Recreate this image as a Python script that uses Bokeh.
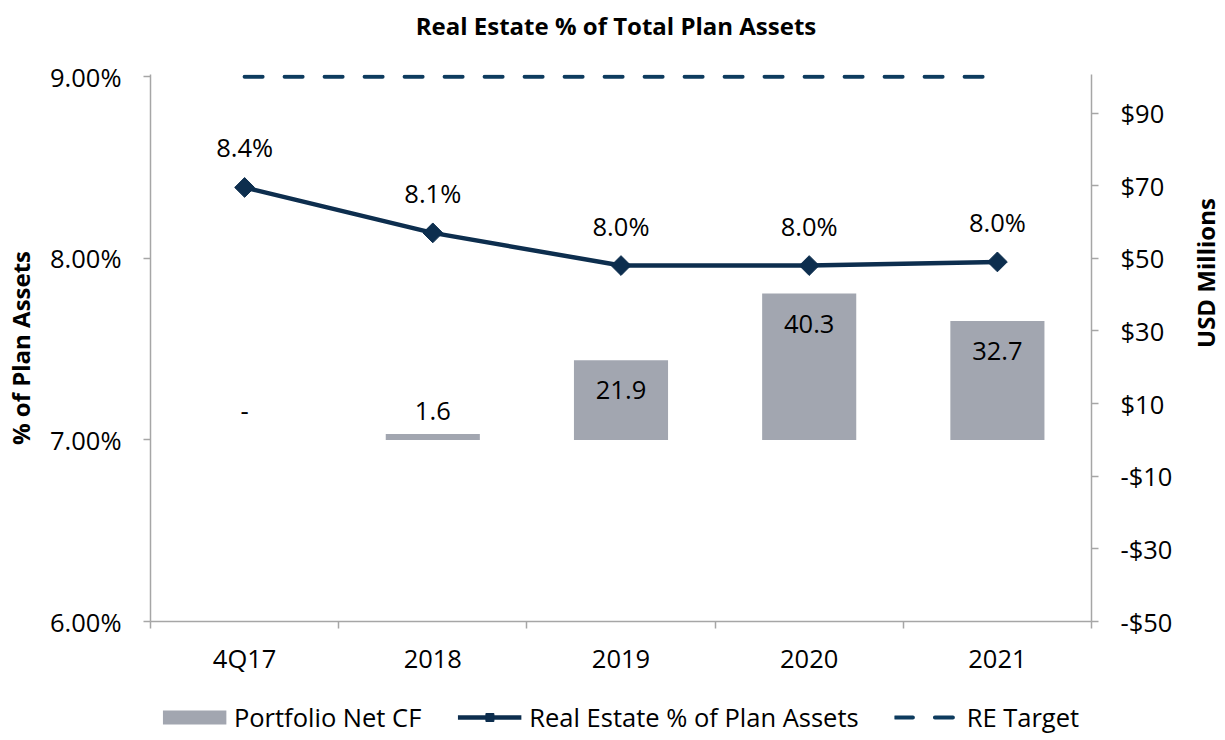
import math
import numpy as np
from bokeh.plotting import figure
from bokeh.layouts import column
from bokeh.models import (Range1d, LinearAxis, FixedTicker, PrintfTickFormatter,
                          Legend, LegendItem, ColumnDataSource)
from bokeh.core.properties import value
from bokeh.embed import file_html
from bokeh.resources import INLINE

# ---------------- data ----------------
categories = ["4Q17", "2018", "2019", "2020", "2021"]
net_cf = [0.0, 1.6, 21.9, 40.3, 32.7]            # USD millions (right axis)
re_pct = [8.39, 8.14, 7.96, 7.96, 7.98]          # % of plan assets (left axis)
re_target = [9.0, 9.0, 9.0, 9.0, 9.0]            # RE target %
left_ticks = [6.0, 7.0, 8.0, 9.0]
right_ticks = [-50, -30, -10, 10, 30, 50, 70, 90]
title_text = "Real Estate % of Total Plan Assets"
legend_labels = ["Portfolio Net CF", "Real Estate % of Plan Assets", "RE Target"]

FONT = "Open Sans"
BAR_C = "#a2a6b0"
LINE_C = "#0d2e4e"
TARGET_C = "#0d3b5e"
AXIS_C = "#a6a6a6"
FW = 941          # frame width shared by all strips
BL, BR = 139, 129  # left / right borders shared by all strips

xs = [i + 0.5 for i in range(len(categories))]
bounds = list(range(len(categories) + 1))

# tiny headroom so the target line at 9.00% is not clipped by the frame
L0, L1 = 6.0, 9.0
R0, R1 = -50.0, 100.0
pad = 0.012
ymax_l = L1 + pad
ymax_r = R0 + (R1 - R0) * (ymax_l - L0) / (L1 - L0)


def blank_fig(h, xr=(0, 1)):
    f = figure(frame_width=FW, frame_height=h, output_backend="svg", toolbar_location=None,
               x_range=Range1d(*xr), y_range=Range1d(0, 1),
               min_border_left=BL, min_border_right=BR,
               min_border_top=0, min_border_bottom=0)
    f.axis.visible = False
    f.grid.visible = False
    f.outline_line_color = None
    f.background_fill_color = "white"
    f.border_fill_color = "white"
    return f


# ---------------- title strip ----------------
tfig = blank_fig(50)
tfig.text(x=[0.5], y=[0.5], text=[title_text], x_offset=-5, text_font=value(FONT),
          text_font_size="24px", text_font_style="bold", text_color="black",
          text_align="center", text_baseline="middle")

# ---------------- main chart ----------------
fig = figure(frame_width=FW, frame_height=547, output_backend="svg", toolbar_location=None,
             x_range=Range1d(0, len(categories)), y_range=Range1d(L0, ymax_l),
             min_border_left=BL, min_border_right=BR, min_border_top=24,
             min_border_bottom=73)
fig.xaxis.visible = False
fig.yaxis.visible = False
fig.grid.visible = False
fig.outline_line_color = None
fig.background_fill_color = "white"
fig.border_fill_color = "white"
fig.extra_y_ranges = {"usd": Range1d(R0, ymax_r)}


def style_axis(ax):
    ax.axis_line_color = AXIS_C
    ax.axis_line_width = 1.5
    ax.major_tick_line_color = AXIS_C
    ax.major_tick_line_width = 1.5
    ax.minor_tick_line_color = AXIS_C
    ax.minor_tick_line_width = 1.5
    ax.major_label_text_font = FONT
    ax.major_label_text_font_size = "25.5px"
    ax.major_label_text_color = "black"
    ax.axis_label_text_font = FONT
    ax.axis_label_text_font_size = "24px"
    ax.axis_label_text_font_style = "bold"
    ax.axis_label_text_color = "black"


xax = LinearAxis(ticker=FixedTicker(ticks=xs, minor_ticks=bounds))
xax.major_label_overrides = {x: c for x, c in zip(xs, categories)}
style_axis(xax)
xax.major_tick_out = 0
xax.major_tick_in = 0
xax.minor_tick_out = 7
xax.minor_tick_in = 0
xax.major_label_standoff = 12
fig.add_layout(xax, "below")

lax = LinearAxis(ticker=FixedTicker(ticks=left_ticks, minor_ticks=[]),
                 formatter=PrintfTickFormatter(format="%.2f%%"),
                 axis_label="% of Plan Assets")
style_axis(lax)
lax.major_tick_out = 7
lax.major_tick_in = 0
lax.major_label_standoff = 22
lax.axis_label_standoff = 10
fig.add_layout(lax, "left")

rax = LinearAxis(y_range_name="usd", ticker=FixedTicker(ticks=right_ticks, minor_ticks=[]),
                 axis_label="USD Millions")
rax.major_label_overrides = {t: ("-$%d" % abs(t) if t < 0 else "$%d" % t) for t in right_ticks}
style_axis(rax)
rax.major_tick_out = 7
rax.major_tick_in = 0
rax.major_label_standoff = 22
rax.axis_label_standoff = 30
rax.axis_label_orientation = math.pi / 2
rax.axis_label_text_align = "center"
fig.add_layout(rax, "right")

# bars + labels
bar_src = ColumnDataSource(dict(x=xs, top=net_cf,
                                ly=[max(v - 8.26, 7.85) for v in net_cf],
                                lab=[("-" if v == 0 else "%.1f" % v) for v in net_cf]))
fig.vbar(x="x", top="top", bottom=0, width=0.5, source=bar_src, y_range_name="usd",
         fill_color=BAR_C, line_color=None)
fig.text(x="x", y="ly", text="lab", source=bar_src, y_range_name="usd",
         text_font=value(FONT), text_font_size="25.5px", text_color="black",
         text_align="center", text_baseline="middle")

# target line
fig.line(xs, re_target, line_color=TARGET_C, line_width=4, line_dash="18 22", line_cap="round")

# RE % line + labels
line_src = ColumnDataSource(dict(x=xs, y=re_pct, lab=["%.1f%%" % v for v in re_pct]))
fig.line(x="x", y="y", source=line_src, line_color=LINE_C, line_width=4.5)
fig.scatter(x="x", y="y", source=line_src, marker="square", angle=math.pi / 4,
            size=14, fill_color=LINE_C, line_color=LINE_C)
fig.text(x="x", y="y", text="lab", source=line_src, y_offset=-40,
         text_font=value(FONT), text_font_size="25.5px", text_color="black",
         text_align="center", text_baseline="middle")

# ---------------- legend strip ----------------
# proxy renderers use the real series, but the strip's x range lies outside them,
# so only their legend swatches are visible
lfig = blank_fig(46, xr=(-2, -1))
r_bar = lfig.line(xs, net_cf, line_color=BAR_C, line_width=14, line_cap="butt")
r_ln = lfig.line(xs, re_pct, line_color=LINE_C, line_width=4.5)
r_mk = lfig.scatter(xs, re_pct, marker="square", angle=math.pi / 4, size=11,
                    fill_color=LINE_C, line_color=LINE_C)
r_tg = lfig.line(xs, re_target, line_color=TARGET_C, line_width=4, line_dash="18 22",
                 line_cap="round")
legend = Legend(items=[LegendItem(label=legend_labels[0], renderers=[r_bar]),
                       LegendItem(label=legend_labels[1], renderers=[r_ln, r_mk]),
                       LegendItem(label=legend_labels[2], renderers=[r_tg])],
                orientation="horizontal", location="center",
                label_text_font=FONT, label_text_font_size="25.5px", label_text_color="black",
                glyph_width=64, glyph_height=20, label_standoff=8, spacing=36,
                padding=0, margin=0,
                border_line_color=None, background_fill_alpha=0)
lfig.add_layout(legend, "center")

p = column(tfig, fig, lfig, spacing=0)
open("out.html", "w").write(file_html(p, INLINE))
